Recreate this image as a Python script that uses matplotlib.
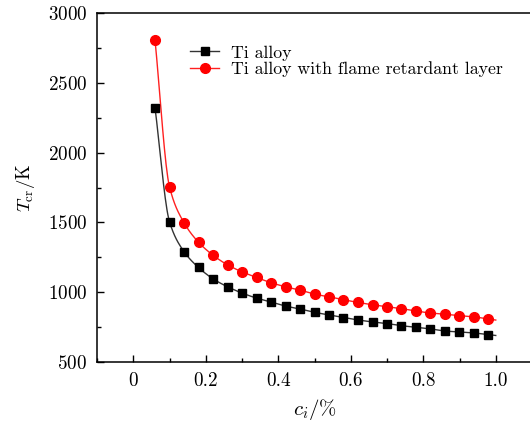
import numpy as np
import matplotlib
matplotlib.use("Agg")
import matplotlib.pyplot as plt
from matplotlib.ticker import MultipleLocator

# concentration c_i (%) and critical temperature (K)
ci = [0.06, 0.10, 0.14, 0.18, 0.22, 0.26, 0.30, 0.34, 0.38, 0.42, 0.46, 0.50,
      0.54, 0.58, 0.62, 0.66, 0.70, 0.74, 0.78, 0.82, 0.86, 0.90, 0.94, 0.98]
t_alloy = [2322, 1505, 1291, 1177, 1096, 1039, 994, 958, 930, 901, 880, 856,
           837, 818, 801, 787, 775, 760, 749, 737, 722, 715, 708, 696]
t_layer = [2807, 1755, 1498, 1358, 1265, 1196, 1146, 1106, 1068, 1039, 1015, 986,
           967, 946, 927, 910, 896, 882, 865, 851, 842, 832, 823, 808]
labels = ["Ti alloy", "Ti alloy with flame retardant layer"]


def pchip(x, y, xs):
    # monotone cubic hermite through the points, linear past the last one
    x = np.asarray(x, float)
    y = np.asarray(y, float)
    h = np.diff(x)
    d = np.diff(y) / h
    m = np.zeros_like(y)
    for k in range(1, len(x) - 1):
        if d[k - 1] * d[k] > 0:
            w1 = 2 * h[k] + h[k - 1]
            w2 = h[k] + 2 * h[k - 1]
            m[k] = (w1 + w2) / (w1 / d[k - 1] + w2 / d[k])
    m[0] = d[0]
    m[-1] = d[-1]
    out = np.empty_like(xs)
    for i, v in enumerate(xs):
        if v >= x[-1]:
            out[i] = y[-1] + m[-1] * (v - x[-1])
            continue
        k = min(np.searchsorted(x, v, side="right") - 1, len(x) - 2)
        t = (v - x[k]) / h[k]
        h00 = 2 * t**3 - 3 * t**2 + 1
        h10 = t**3 - 2 * t**2 + t
        h01 = -2 * t**3 + 3 * t**2
        h11 = t**3 - t**2
        out[i] = h00 * y[k] + h10 * h[k] * m[k] + h01 * y[k + 1] + h11 * h[k] * m[k + 1]
    return out


plt.rcParams["font.family"] = "cmr10"
plt.rcParams["mathtext.fontset"] = "cm"
plt.rcParams["axes.formatter.use_mathtext"] = True

fig = plt.figure(figsize=(5.30, 4.21), dpi=100)
ax = fig.add_axes([97 / 530, 1 - 362 / 421, 435 / 530, 349 / 421])

xs = np.linspace(ci[0], 1.0, 400)
ax.plot(xs, pchip(ci, t_alloy, xs), color="#333333", lw=1.0)
ax.plot(xs, pchip(ci, t_layer, xs), color="#ff2020", lw=1.0)
ax.plot(ci, t_alloy, "s", color="black", ms=5.8, ls="none")
ax.plot(ci, t_layer, "o", color="red", ms=7, ls="none")

# legend proxies (line + marker)
h1, = ax.plot([], [], "-s", color="#333333", mfc="black", mec="black", ms=5.8, lw=1.0)
h2, = ax.plot([], [], "-o", color="#ff2020", mfc="red", mec="red", ms=7, lw=1.0)
ax.legend([h1, h2], labels, loc="upper left", frameon=False, numpoints=1,
          fontsize=12.8, handlelength=1.65, handletextpad=0.65, labelspacing=0.05,
          borderaxespad=0, bbox_to_anchor=(183 / 530, 1 - 38 / 421),
          bbox_transform=fig.transFigure)

ax.set_xlim(-0.1, 1.1)
ax.set_ylim(500, 3000)
ax.xaxis.set_major_locator(MultipleLocator(0.2))
ax.xaxis.set_minor_locator(MultipleLocator(0.1))
ax.yaxis.set_major_locator(MultipleLocator(500))
ax.yaxis.set_minor_locator(MultipleLocator(250))
ax.set_xticks([0, 0.2, 0.4, 0.6, 0.8, 1.0])
ax.set_xticklabels(["0", "0.2", "0.4", "0.6", "0.8", "1.0"])
ax.tick_params(which="both", direction="in", labelsize=13.8, width=1.0)
ax.tick_params(which="major", length=5)
ax.tick_params(which="minor", length=3)
ax.tick_params(axis="x", pad=7)
ax.tick_params(axis="y", pad=7)
ax.spines["right"].set_visible(False)
for s in ["left", "bottom", "top"]:
    ax.spines[s].set_linewidth(1.1)

ax.set_xlabel(r"$c_i/\%$", fontsize=15, labelpad=5)
ax.set_ylabel(r"$T_{\rm cr}/{\rm K}$", fontsize=13.5, labelpad=8)

fig.savefig("out.png", dpi=100)
